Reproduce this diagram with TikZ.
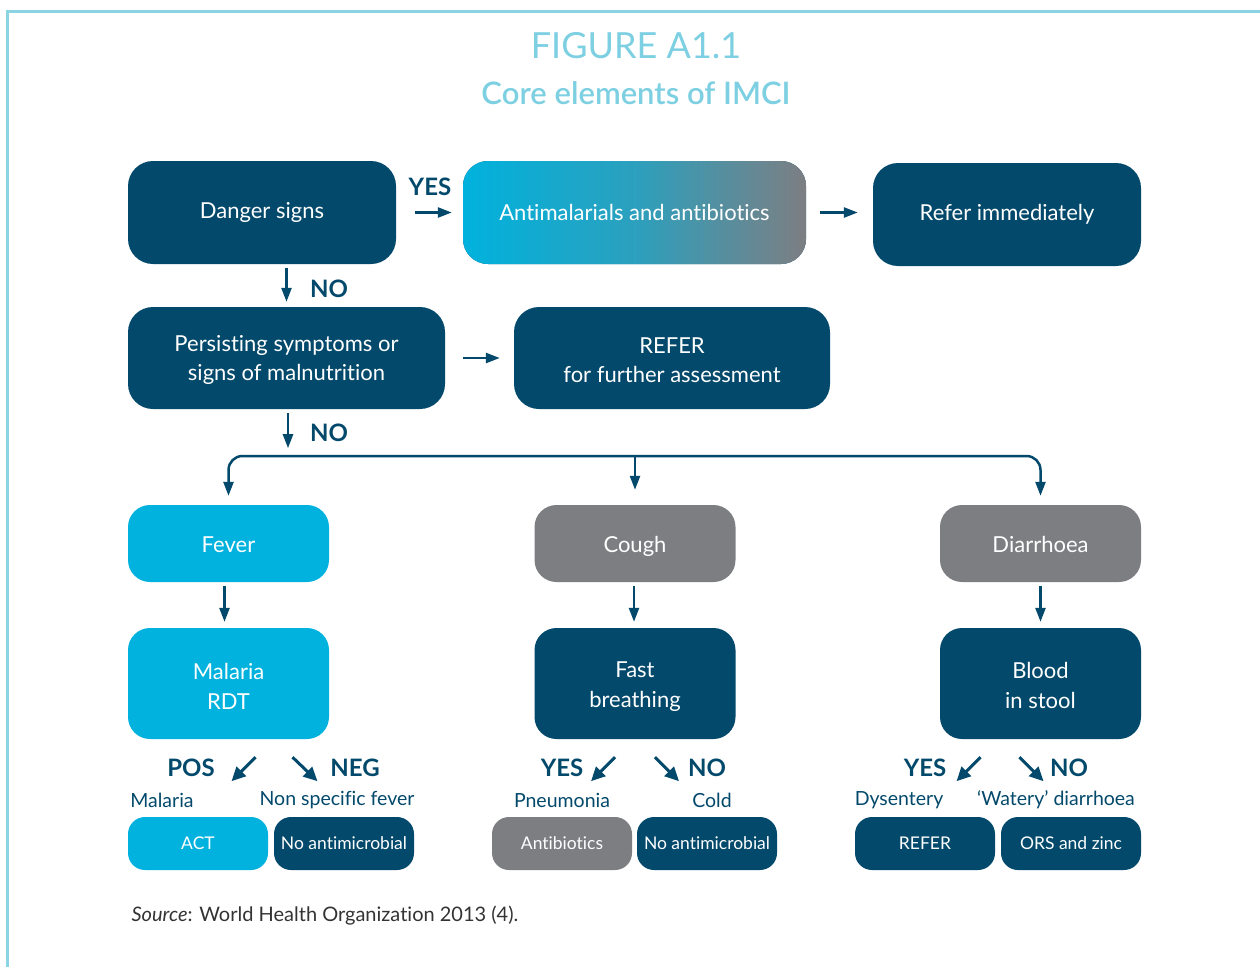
\documentclass[tikz,border=0pt]{standalone}
\usepackage{fontspec}
\setmainfont{Lato}[Ligatures=NoCommon]
\newfontfamily\lightfont{Lato}[Ligatures=NoCommon]
\newfontfamily\semifont{Lato Semibold}[Ligatures=NoCommon]
\usetikzlibrary{calc,arrows.meta}
\definecolor{imcidark}{RGB}{3,73,107}
\definecolor{imcicyan}{RGB}{0,178,221}
\definecolor{imcigray}{RGB}{125,126,130}
\definecolor{imcititle}{RGB}{125,207,226}
\definecolor{imciframe}{RGB}{138,212,227}

\begin{document}
\begin{tikzpicture}[x=1pt, y=-1pt]
\tikzstyle{big} = [rectangle, rounded corners=25pt, minimum width=268pt, minimum height=103pt, align=center, text=white, fill=imcidark, font=\fontsize{22}{29}\selectfont]
\tikzstyle{mid} = [rectangle, rounded corners=22pt, minimum width=201pt, minimum height=77pt, align=center, text=white, fill=imcidark, font=\fontsize{22}{30}\selectfont]
\tikzstyle{one} = [text height=21pt, text depth=3pt]
\tikzstyle{small} = [rectangle, rounded corners=17pt, minimum width=140pt, minimum height=53pt, align=center, text=white, fill=imcidark, font=\fontsize{17.5}{21}\selectfont]
\tikzstyle{lab} = [text=imcidark, font=\fontsize{19.5}{23}\selectfont]
\tikzstyle{yn} = [text=imcidark, font=\bfseries\fontsize{24}{28}\selectfont]
\tikzstyle{arr} = [-{Triangle[length=14pt, width=10pt]}, line width=2.5pt, draw=imcidark]
\tikzstyle{diag} = [-{Triangle[length=14pt, width=13pt]}, line width=3pt, draw=imcidark]

\useasboundingbox (0,0) rectangle (1260,967);
% frame
\draw[imciframe, line width=3pt] (7,967) -- (7,11) -- (1260,11);

\node (title) [text=imcititle, font=\lightfont\fontsize{36}{40}\selectfont] at (636,46) {FIGURE A1.1};
\node (subtitle) [text=imcititle, font=\semifont\fontsize{31}{36}\selectfont] at (636,93) {Core elements of IMCI};

% top rows
\node (danger) [big] at (262,212.5) {Danger signs};
\node (antimal) [big, minimum width=343pt, left color=imcicyan, right color=imcigray, middle color=imcicyan!65!imcigray] at (634.5,212.5) {Antimalarials and antibiotics};
\node (referimm) [big] at (1007,214.5) {Refer immediately};
\node (persist) [big, minimum width=317pt, minimum height=102pt] at (286.5,358) {\strut Persisting symptoms or\\signs of malnutrition};
\node (refer) [big, minimum width=316pt, minimum height=102pt] at (672,358) {\strut REFER\\for further assessment};

% three branches
\node (fever) [mid, one, fill=imcicyan] at (228.5,543.5) {Fever};
\node (cough) [mid, one, fill=imcigray] at (635,543.5) {Cough};
\node (diarr) [mid, one, fill=imcigray] at (1040.5,543.5) {Diarrhoea};
\node (rdt) [mid, fill=imcicyan, minimum height=111pt] at (228.5,683.5) {\strut Malaria\\RDT};
\node (fast) [mid, minimum height=111pt] at (635,683.5) {\strut Fast\\breathing};
\node (blood) [mid, minimum height=111pt] at (1040.5,683.5) {\strut Blood\\in stool};

% outcomes
\node (act) [small, fill=imcicyan] at (198,843.5) {ACT};
\node (noam1) [small] at (344,843.5) {No antimicrobial};
\node (antib) [small, fill=imcigray] at (562,843.5) {Antibiotics};
\node (noam2) [small] at (707,843.5) {No antimicrobial};
\node (referd) [small] at (925,843.5) {REFER};
\node (ors) [small] at (1071,843.5) {ORS and zinc};

\node (pos) [yn] at (191,768) {POS};
\node (neg) [yn] at (355,768) {NEG};
\node (yes2) [yn] at (562,768) {YES};
\node (no2) [yn] at (707,768) {NO};
\node (yes3) [yn] at (925,768) {YES};
\node (no3) [yn] at (1069,768) {NO};

\node (malaria) [lab] at (162,800) {Malaria};
\node (nsf) [lab] at (337,800) {Non specific fever};
\node (pneu) [lab] at (562,800) {Pneumonia};
\node (cold) [lab] at (712,800) {Cold};
\node (dys) [lab] at (899,800) {Dysentery};
\node (watery) [lab] at (1056,800) {‘Watery’ diarrhoea};

\node (source) [anchor=west, text=black!80, font=\fontsize{20}{24}\selectfont] at (128,916) {\textit{Source}: World Health Organization 2013 (4).};

% arrows
\draw[arr, shorten <=19pt, shorten >=11pt] (danger) -- (antimal);
\node (yes1) [yn] at (430,187) {YES};
\draw[arr, shorten <=14pt, shorten >=15pt] (antimal.east) -- (antimal.east -| referimm.west);
\draw[arr, shorten <=4pt, shorten >=5pt] (persist.north |- danger.south) -- (persist.north);
\node (no1) [yn] at (329,289) {NO};
\draw[arr, shorten <=18pt, shorten >=14pt] (persist) -- (refer);
\coordinate (split) at (635,456);
\draw[arr, shorten <=4pt] ($(persist.south)+(1.5,0)$) -- ($(persist.south)+(1.5,39)$);
\node (no4) [yn] at (329,433) {NO};
\draw[arr, rounded corners=14pt, shorten >=9pt] (split) -| (fever.north);
\draw[arr, rounded corners=14pt, shorten >=9pt] (split) -| (diarr.north);
\draw[arr, shorten >=15pt] (split) -- (cough.north);

\draw[arr, shorten <=4pt, shorten >=6pt] ($(fever.south)+(-4,0)$) -- ($(rdt.north)+(-4,0)$);
\draw[arr, shorten <=4pt, shorten >=6pt] ($(cough.south)+(-1,0)$) -- ($(fast.north)+(-1,0)$);
\draw[arr, shorten <=4pt, shorten >=6pt] (diarr) -- (blood);

\draw[diag] ($(rdt.south)+(27,18)$) -- +(-24,24);
\draw[diag] ($(rdt.south)+(64,18)$) -- +(25,24);
\draw[diag] ($(fast.south)+(-20,18)$) -- +(-24,24);
\draw[diag] ($(fast.south)+(20,18)$) -- +(24,24);
\draw[diag] ($(blood.south)+(-60,18)$) -- +(-24,24);
\draw[diag] ($(blood.south)+(-21,18)$) -- +(24,24);
\end{tikzpicture}
\end{document}
